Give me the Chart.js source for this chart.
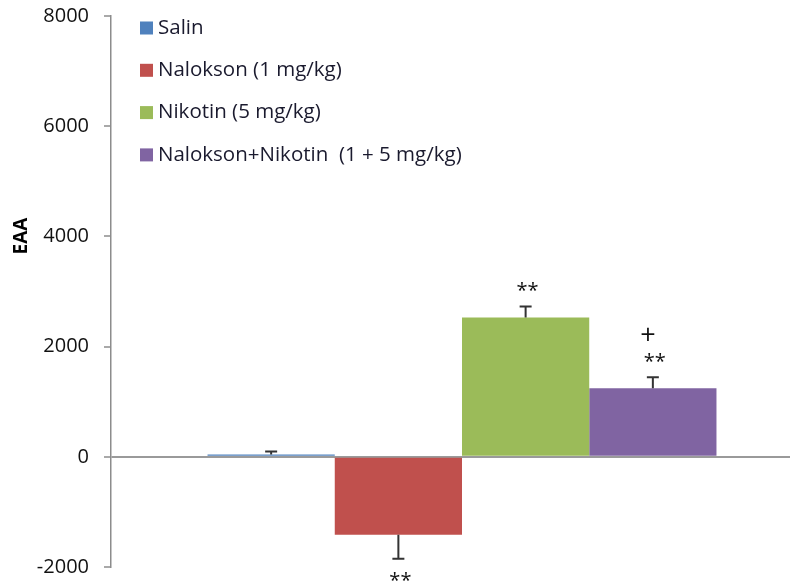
<!DOCTYPE html>
<html>
<head>
<meta charset="utf-8">
<script src="https://cdn.jsdelivr.net/npm/chart.js@4.4.1/dist/chart.umd.min.js"></script>
<style>
  html, body { margin: 0; padding: 0; background: #fff; overflow: hidden; }
  #wrap { width: 830px; height: 588px; }
</style>
</head>
<body>
<div id="wrap"><canvas id="c" width="830" height="588"></canvas></div>
<script>
// EAA by treatment group
const groups = ['Salin', 'Nalokson (1 mg/kg)', 'Nikotin (5 mg/kg)', 'Nalokson+Nikotin  (1 + 5 mg/kg)'];
const eaaMeans = [40, -1415, 2530, 1245];
const eaaErrors = [55, 435, 200, 200];
const significance = [[], ['**'], ['**'], ['**', '+']];
const yTicks = [-2000, 0, 2000, 4000, 6000, 8000];
const barColors = ['#4F81BD', '#C0504D', '#9BBB59', '#8064A2'];

const FONT = '"Open Sans", "Noto Sans", sans-serif';

// error bars and significance marks above/below each bar
const markPlugin = {
  id: 'marks',
  afterDatasetsDraw(chart) {
    const ctx = chart.ctx;
    const y = chart.scales.y;
    ctx.save();
    chart.data.datasets.forEach((ds, i) => {
      const bar = chart.getDatasetMeta(i).data[0];
      const v = ds.data[0];
      const err = eaaErrors[i];
      const dir = v >= 0 ? 1 : -1;
      const yBar = y.getPixelForValue(v);
      const yEnd = y.getPixelForValue(v + dir * err);
      const x = bar.x;
      ctx.strokeStyle = '#333';
      ctx.lineWidth = 2;
      ctx.beginPath();
      ctx.moveTo(x, yBar);
      ctx.lineTo(x, yEnd);
      ctx.moveTo(x - 6, yEnd);
      ctx.lineTo(x + 6, yEnd);
      ctx.stroke();
      // significance markers
      ctx.fillStyle = '#111';
      ctx.textAlign = 'center';
      ctx.textBaseline = 'middle';
      significance[i].forEach((s, k) => {
        const off = 20 + k * 25;
        const ty = dir > 0 ? yEnd - off : yEnd + off - 2;
        if (s === '**') {
          ctx.font = '20px ' + FONT;
          ctx.fillText(s, x + 2, ty + 5);
        } else {
          ctx.font = '27px ' + FONT;
          ctx.fillText(s, x - 5, ty + 4);
        }
      });
    });
    ctx.restore();
  }
};

// legend inside the plot and the rotated axis title
const legendPlugin = {
  id: 'insideLegend',
  afterDraw(chart) {
    const ctx = chart.ctx;
    ctx.save();
    ctx.textBaseline = 'middle';
    ctx.textAlign = 'left';
    ctx.font = '20.5px ' + FONT;
    chart.data.datasets.forEach((ds, i) => {
      const cy = 28 + i * 42.3;
      ctx.fillStyle = ds.backgroundColor;
      ctx.fillRect(140, cy - 6.5, 13, 13);
      ctx.fillStyle = '#1a1a2e';
      ctx.fillText(ds.label, 158, cy);
    });
    ctx.translate(22, 236);
    ctx.rotate(-Math.PI / 2);
    ctx.textAlign = 'center';
    ctx.font = 'bold 19px ' + FONT;
    ctx.fillStyle = '#000';
    ctx.fillText('EAA', 0, 0);
    ctx.restore();
  }
};

new Chart(document.getElementById('c'), {
  type: 'bar',
  data: {
    labels: [''],
    datasets: groups.map((g, i) => ({
      label: g,
      data: [eaaMeans[i]],
      backgroundColor: barColors[i],
      borderWidth: 0,
      barPercentage: 1,
      categoryPercentage: 0.725
    }))
  },
  options: {
    responsive: false,
    animation: false,
    layout: { padding: { left: 0, right: 17, top: 16, bottom: 21 } },
    plugins: { legend: { display: false }, tooltip: { enabled: false } },
    scales: {
      x: { display: false },
      y: {
        min: -2000,
        max: 8000,
        afterBuildTicks(scale) { scale.ticks = yTicks.map(v => ({ value: v })); },
        afterFit(scale) {
          scale.width = 111;
          scale.paddingTop = 0;
          scale.paddingBottom = 0;
        },
        border: { display: true, color: '#8c8c8c', width: 1.5 },
        grid: {
          drawOnChartArea: true,
          color: ctx => (ctx.tick && ctx.tick.value === 0 ? '#9a9a9a' : 'rgba(0,0,0,0)'),
          lineWidth: 2,
          tickColor: '#8c8c8c',
          tickLength: 7,
          tickWidth: 1.5
        },
        ticks: {
          color: '#111',
          padding: 15,
          font: { family: FONT, size: 20 },
          callback: v => String(v)
        }
      }
    }
  },
  plugins: [markPlugin, legendPlugin]
});
</script>
</body>
</html>
